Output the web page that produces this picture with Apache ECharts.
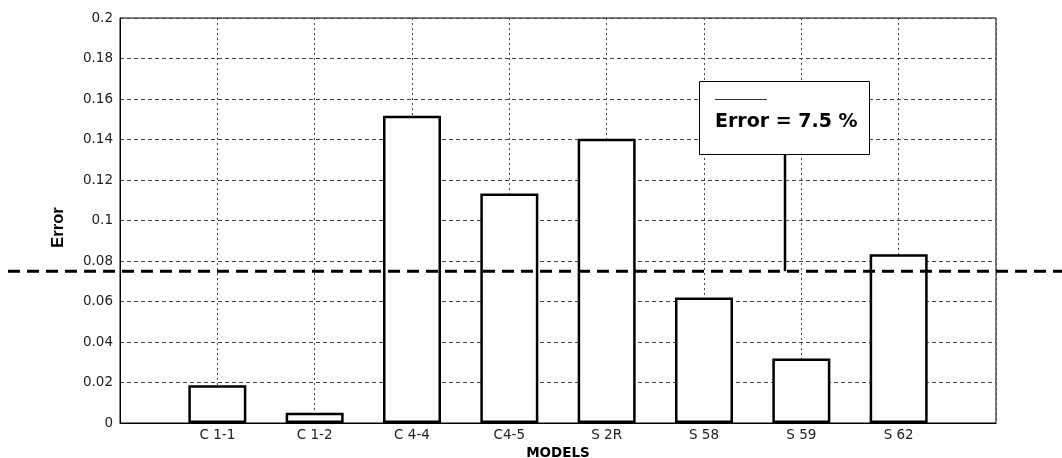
<!DOCTYPE html>
<html>
<head>
<meta charset="utf-8">
<script src="https://cdn.jsdelivr.net/npm/echarts@6/dist/echarts.min.js"></script>
<style>
  html, body { margin: 0; padding: 0; background: #fff; }
  #chart { width: 1062px; height: 458px; }
</style>
</head>
<body>
<div id="chart"></div>
<script>
// Model names along the horizontal axis (placed at positions 1..8)
const models = ['C 1-1', 'C 1-2', 'C 4-4', 'C4-5', 'S 2R', 'S 58', 'S 59', 'S 62'];
// Error of each model
const errors = [0.0186, 0.0051, 0.1517, 0.1133, 0.1404, 0.0620, 0.0319, 0.0833];
// Mean error shown by the dashed reference line, in percent
const meanErrorPct = 7.5;
// Vertical axis ticks
const yMin = 0, yMax = 0.2, yStep = 0.02;

const meanError = meanErrorPct / 100;
const barData = errors.map((v, i) => [i + 1, v]);

const chart = echarts.init(document.getElementById('chart'), null, { renderer: 'canvas' });

const gridDash = { color: '#444', width: 1 };

chart.setOption({
  animation: false,
  backgroundColor: '#fff',
  grid: {
    left: 120, top: 18, width: 876, height: 405,
    containLabel: false, outerBoundsMode: 'none',
    show: true, borderColor: '#000', borderWidth: 1, backgroundColor: 'transparent'
  },
  xAxis: {
    type: 'value', min: 0, max: models.length + 1, interval: 1,
    name: 'MODELS', nameLocation: 'middle', nameGap: 21,
    nameTextStyle: { fontFamily: 'DejaVu Sans', fontWeight: 'bold', fontSize: 13.5, color: '#000' },
    axisLine: { show: true, lineStyle: { color: '#000', width: 1 } },
    axisTick: { show: false },
    axisLabel: {
      margin: 5, fontFamily: 'DejaVu Sans', fontSize: 13.5, color: '#222',
      formatter: v => models[v - 1] || ''
    },
    splitLine: { show: true, lineStyle: Object.assign({ type: [2, 3] }, gridDash) }
  },
  yAxis: {
    type: 'value', min: yMin, max: yMax, interval: yStep,
    name: 'Error', nameLocation: 'middle', nameGap: 53,
    nameTextStyle: { fontFamily: 'Liberation Sans', fontWeight: 'bold', fontSize: 16.5, color: '#000', padding: [0, 0, 0, -14] },
    axisLine: { show: true, lineStyle: { color: '#000', width: 1 } },
    axisTick: { show: false },
    axisLabel: {
      margin: 7, fontFamily: 'DejaVu Sans', fontSize: 13.5, color: '#222',
      formatter: v => String(Math.round(v * 100) / 100)
    },
    splitLine: { show: true, lineStyle: Object.assign({ type: [4, 3] }, gridDash) }
  },
  series: [{
    type: 'bar',
    data: barData,
    barWidth: 58,
    itemStyle: { color: '#fff', borderColor: '#000', borderWidth: 2.5 },
    z: 3
  }]
});

// Mean error reference line across the full width, with its annotation box
const meanY = chart.convertToPixel({ yAxisIndex: 0 }, meanError);
const box = { x: 699, y: 81, w: 170, h: 73 };
const pointerX = 785;

chart.setOption({
  graphic: [
    {
      type: 'line', z: 20,
      shape: { x1: 8, y1: meanY, x2: 1062, y2: meanY },
      style: { stroke: '#000', lineWidth: 3, lineDash: [12, 7] }
    },
    {
      type: 'line', z: 20,
      shape: { x1: pointerX, y1: box.y + box.h, x2: pointerX, y2: meanY },
      style: { stroke: '#000', lineWidth: 2.5 }
    },
    {
      type: 'rect', z: 21,
      shape: { x: box.x + 0.5, y: box.y + 0.5, width: box.w, height: box.h },
      style: { fill: '#fff', stroke: '#000', lineWidth: 1 }
    },
    {
      type: 'line', z: 22,
      shape: { x1: box.x + 16, y1: box.y + 18.5, x2: box.x + 68, y2: box.y + 18.5 },
      style: { stroke: '#333', lineWidth: 1 }
    },
    {
      type: 'text', z: 22,
      x: box.x + 16, y: box.y + 41,
      style: {
        text: 'Error = ' + meanErrorPct + ' %',
        fontFamily: 'DejaVu Sans', fontWeight: 'bold', fontSize: 19,
        fill: '#000', verticalAlign: 'middle'
      }
    }
  ]
});
</script>
</body>
</html>
